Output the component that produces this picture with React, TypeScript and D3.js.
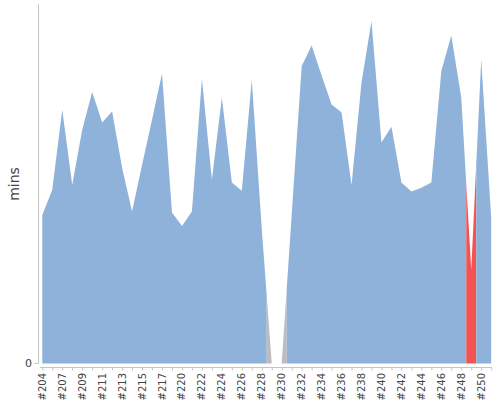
import React from "react";
import * as d3 from "d3";

const builds = [
  "#204", "#206", "#207", "#208", "#209", "#210", "#211", "#212", "#213", "#214",
  "#215", "#216", "#217", "#219", "#220", "#221", "#222", "#223", "#224", "#225",
  "#226", "#227", "#228", "#229", "#230", "#231", "#232", "#233", "#234", "#235",
  "#236", "#237", "#238", "#239", "#240", "#241", "#242", "#243", "#244", "#245",
  "#246", "#247", "#248", "#249", "#250", "#251",
];

const durations = [
  0.312, 0.365, 0.533, 0.375, 0.491, 0.570, 0.506, 0.529, 0.411, 0.319,
  0.417, 0.512, 0.609, 0.317, 0.289, 0.319, 0.598, 0.386, 0.558, 0.380,
  0.363, 0.596, 0.283, 0, 0, 0.312, 0.624, 0.668, 0.605, 0.544,
  0.527, 0.375, 0.590, 0.719, 0.464, 0.497, 0.380, 0.361, 0.369, 0.380,
  0.614, 0.689, 0.558, 0.197, 0.638, 0.306,
];

const statuses = [
  "ok", "ok", "ok", "ok", "ok", "ok", "ok", "ok", "ok", "ok",
  "ok", "ok", "ok", "ok", "ok", "ok", "ok", "ok", "ok", "ok",
  "ok", "ok", "ok", "aborted", "aborted", "ok", "ok", "ok", "ok", "ok",
  "ok", "ok", "ok", "ok", "ok", "ok", "ok", "ok", "ok", "ok",
  "ok", "ok", "ok", "failed", "ok", "ok",
];

const yTicks = [0];
const yLabel = "mins";

const statusColor: Record<string, string> = {
  ok: "#8eb2d9",
  failed: "#f25454",
  aborted: "#bcbcbc",
};

export default function App() {
  const W = 500;
  const H = 400;
  const x = d3.scalePoint<string>().domain(builds).range([42.3, 491.2]);
  const yMax = (d3.max(durations) as number) * 1.05;
  const y = d3.scaleLinear().domain([0, yMax]).range([363.5, 4]);

  const n = builds.length;
  const xs = builds.map((b) => x(b) as number);

  // group consecutive builds with the same status into runs
  const runs: { status: string; start: number; end: number }[] = [];
  statuses.forEach((s, i) => {
    const last = runs[runs.length - 1];
    if (last && last.status === s) last.end = i;
    else runs.push({ status: s, start: i, end: i });
  });

  const area = d3
    .area<[number, number]>()
    .x((d) => d[0])
    .y0(y(0))
    .y1((d) => y(d[1]));

  const runPath = (start: number, end: number) => {
    const pts: [number, number][] = [];
    if (start === 0) pts.push([xs[0], durations[0]]);
    else
      pts.push([
        (xs[start - 1] + xs[start]) / 2,
        (durations[start - 1] + durations[start]) / 2,
      ]);
    for (let i = start; i <= end; i++) pts.push([xs[i], durations[i]]);
    if (end === n - 1) pts.push([xs[n - 1], durations[n - 1]]);
    else
      pts.push([
        (xs[end] + xs[end + 1]) / 2,
        (durations[end] + durations[end + 1]) / 2,
      ]);
    return area(pts) as string;
  };

  const axisColor = "#c4c4c4";
  const textColor = "#444444";
  const xAxisY = 367;

  return (
    <svg
      width={W}
      height={H}
      style={{ position: "absolute", left: 0, top: 0, background: "#ffffff" }}
    >
      {runs.map((r, k) => (
        <path
          key={k}
          d={runPath(r.start, r.end)}
          fill={statusColor[r.status]}
          stroke="none"
        />
      ))}
      {/* y axis */}
      <line x1={38.5} x2={38.5} y1={4} y2={y(0)} stroke={axisColor} strokeWidth={1} />
      {yTicks.map((t) => (
        <g key={t}>
          <line x1={34.5} x2={38.5} y1={y(t)} y2={y(t)} stroke={axisColor} />
          <text
            x={32}
            y={y(t)}
            textAnchor="end"
            dominantBaseline="central"
            fontFamily="DejaVu Sans, sans-serif"
            fontSize={11}
            fill={textColor}
          >
            {t}
          </text>
        </g>
      ))}
      <text
        transform={`translate(13.5,184) rotate(-90)`}
        textAnchor="middle"
        dominantBaseline="central"
        fontFamily="DejaVu Sans, sans-serif"
        fontSize={14}
        fill={textColor}
      >
        {yLabel}
      </text>
      {/* x axis */}
      <line x1={40} x2={492} y1={xAxisY + 0.5} y2={xAxisY + 0.5} stroke={axisColor} />
      {builds.map((b, i) => (
        <g key={b}>
          <line
            x1={xs[i] + 0.5}
            x2={xs[i] + 0.5}
            y1={xAxisY + 0.5}
            y2={xAxisY + 3.5}
            stroke={axisColor}
          />
          {i % 2 === 0 && (
            <text
              transform={`translate(${xs[i]},${xAxisY + 6}) rotate(-90)`}
              textAnchor="end"
              dominantBaseline="central"
              fontFamily="DejaVu Sans, sans-serif"
              fontSize={10}
              fill={textColor}
            >
              {b}
            </text>
          )}
        </g>
      ))}
    </svg>
  );
}
